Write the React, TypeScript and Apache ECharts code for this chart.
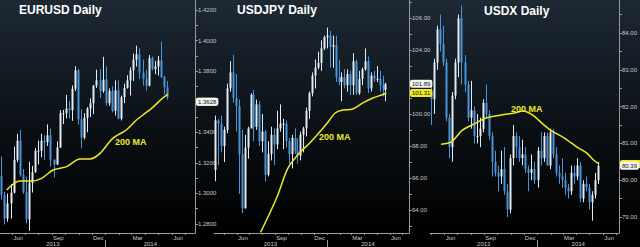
import { useEffect, useRef } from 'react';
import * as echarts from 'echarts';

// ---------- data ----------
// Weekly bars, stamped at mid-week (Wednesday).
const weeks = [
  '2013-04-10', '2013-04-17', '2013-04-24', '2013-05-01', '2013-05-08', '2013-05-15', '2013-05-22', '2013-05-29',
  '2013-06-05', '2013-06-12', '2013-06-19', '2013-06-26', '2013-07-03', '2013-07-10', '2013-07-17', '2013-07-24', '2013-07-31',
  '2013-08-07', '2013-08-14', '2013-08-21', '2013-08-28', '2013-09-04', '2013-09-11', '2013-09-18', '2013-09-25',
  '2013-10-02', '2013-10-09', '2013-10-16', '2013-10-23', '2013-10-30', '2013-11-06', '2013-11-13', '2013-11-20', '2013-11-27',
  '2013-12-04', '2013-12-11', '2013-12-18', '2013-12-25', '2014-01-01', '2014-01-08', '2014-01-15', '2014-01-22', '2014-01-29',
  '2014-02-05', '2014-02-12', '2014-02-19', '2014-02-26', '2014-03-05', '2014-03-12', '2014-03-19', '2014-03-26',
  '2014-04-02', '2014-04-09', '2014-04-16', '2014-04-23', '2014-04-30', '2014-05-07', '2014-05-14', '2014-05-21',
];

// EURUSD
const eurFirstOpen = 1.3115;
const eurHigh = [null, null, null, null,
  1.3242, 1.3010, 1.3000, 1.3061, 1.3307, 1.3390, 1.3416, 1.3160, 1.3110, 1.3207, 1.3180, 1.3297, 1.3346,
  1.3390, 1.3380, 1.3452, 1.3424, 1.3224, 1.3340, 1.3545, 1.3547, 1.3645, 1.3605, 1.3706, 1.3832, 1.3815,
  1.3550, 1.3525, 1.3565, 1.3622, 1.3710, 1.3810, 1.3812, 1.3893, 1.3830, 1.3687, 1.3700, 1.3740, 1.3740,
  1.3640, 1.3718, 1.3773, 1.3825, 1.3915, 1.3967, 1.3950, 1.3876, 1.3810, 1.3905, 1.3895, 1.3866, 1.3900,
  1.3993, 1.3770, 1.3735];
const eurLow = [null, null, null, null,
  1.2960, 1.2797, 1.2815, 1.2835, 1.3000, 1.3205, 1.3110, 1.2996, 1.2804, 1.2755, 1.3006, 1.3135, 1.3190,
  1.3236, 1.3220, 1.3310, 1.3175, 1.3105, 1.3186, 1.3300, 1.3453, 1.3490, 1.3491, 1.3475, 1.3670, 1.3450,
  1.3295, 1.3353, 1.3400, 1.3500, 1.3519, 1.3690, 1.3625, 1.3658, 1.3575, 1.3573, 1.3530, 1.3510, 1.3485,
  1.3477, 1.3590, 1.3685, 1.3640, 1.3735, 1.3830, 1.3750, 1.3705, 1.3673, 1.3700, 1.3805, 1.3780, 1.3771,
  1.3755, 1.3647, 1.3614];
const eurClose = [null, null, null, null,
  1.2990, 1.2835, 1.2935, 1.3005, 1.3220, 1.3345, 1.3120, 1.3010, 1.2830, 1.3070, 1.3140, 1.3280, 1.3280,
  1.3345, 1.3335, 1.3380, 1.3220, 1.3190, 1.3300, 1.3525, 1.3525, 1.3555, 1.3545, 1.3685, 1.3805, 1.3485,
  1.3365, 1.3495, 1.3555, 1.3590, 1.3705, 1.3740, 1.3670, 1.3745, 1.3590, 1.3670, 1.3540, 1.3675, 1.3490,
  1.3630, 1.3690, 1.3740, 1.3805, 1.3875, 1.3910, 1.3790, 1.3750, 1.3705, 1.3885, 1.3815, 1.3830, 1.3870,
  1.3760, 1.3695, 1.3628];
const eurMaDates = ['2013-05-20', '2013-06-19', '2013-07-16', '2013-08-08', '2013-09-03', '2013-10-04', '2013-11-03',
  '2013-11-26', '2013-12-19', '2014-01-17', '2014-02-17', '2014-03-12', '2014-03-27', '2014-04-19', '2014-05-11', '2014-05-23'];
const eurMa = [1.3022, 1.3081, 1.3081, 1.3099, 1.3153, 1.3175, 1.3225, 1.3225, 1.3262, 1.3360, 1.3415, 1.3480,
  1.3513, 1.3565, 1.3624, 1.3650];
const eurTickLabels = [1.28, 1.30, 1.32, 1.34, 1.38, 1.40, 1.42];

// USDJPY
const jpyFirstOpen = 96.5;
const jpyHigh = [99.9, 99.7, 99.9, 99.2, 101.9, 103.3, 103.7, 102.5, 100.9, 99.0, 98.7, 99.2, 101.3, 101.5, 100.9,
  100.8, 100.0, 99.0, 98.3, 99.2, 99.1, 100.2, 100.6, 99.7, 99.6, 98.5, 98.7, 99.1, 98.5, 98.9, 99.2, 100.4,
  101.4, 102.6, 103.4, 103.9, 104.6, 104.9, 105.4, 105.2, 104.9, 104.9, 103.4, 102.6, 102.8, 102.8, 102.7,
  103.8, 103.4, 102.7, 102.9, 104.1, 103.6, 102.6, 102.7, 103.0, 102.7, 102.4, 101.95];
const jpyLow = [95.8, 96.8, 97.6, 97.0, 98.8, 101.4, 100.7, 98.9, 95.0, 93.8, 94.1, 97.2, 99.1, 98.3, 99.0,
  98.0, 97.6, 95.8, 96.1, 97.1, 96.8, 97.8, 98.9, 97.8, 97.9, 96.9, 96.6, 97.5, 96.9, 97.1, 97.6, 98.6,
  99.7, 101.1, 101.6, 102.8, 102.7, 104.0, 104.1, 102.9, 102.9, 102.0, 101.8, 100.8, 101.6, 101.4, 101.2,
  101.2, 101.2, 101.2, 101.8, 102.7, 101.3, 101.4, 102.0, 102.0, 101.4, 101.1, 100.8];
const jpyClose = [99.6, 99.4, 98.0, 99.0, 101.6, 102.6, 101.0, 100.5, 97.5, 94.1, 97.9, 99.1, 101.2, 99.2, 100.6,
  98.3, 98.9, 96.2, 97.5, 98.7, 98.1, 99.1, 99.4, 99.4, 98.3, 97.5, 98.5, 97.7, 97.4, 98.7, 99.1, 100.2,
  101.3, 102.4, 102.9, 103.2, 104.1, 104.8, 104.9, 104.2, 104.3, 102.3, 102.0, 102.3, 101.8, 102.5, 101.8,
  103.3, 101.3, 102.2, 102.8, 103.3, 101.6, 102.4, 102.2, 102.2, 101.8, 101.5, 101.89];
const jpyMaDates = ['2013-07-27', '2013-09-04', '2013-09-30', '2013-10-29', '2013-11-22', '2013-12-16', '2014-01-04',
  '2014-01-21', '2014-02-08', '2014-03-04', '2014-03-28', '2014-04-21', '2014-05-15', '2014-05-23'];
const jpyMa = [92.6, 94.8, 96.6, 97.6, 98.2, 98.9, 99.5, 100.06, 100.25, 100.31, 100.69, 101.0, 101.22, 101.31];
const jpyTickLabels = [94, 96, 98, 100, 104, 106];

// USDX
const dxyFirstOpen = 82.4;
const dxyHigh = [null, null, null,
  82.6, 83.3, 84.2, 84.5, 84.2, 83.3, 81.8, 82.4, 83.3, 84.5, 84.75, 83.4, 82.7, 82.7, 82.0, 81.8, 81.7,
  82.2, 82.6, 81.9, 81.3, 80.8, 80.4, 80.8, 80.9, 79.9, 80.7, 81.5, 81.3, 81.2, 81.1, 80.9, 80.4, 80.7,
  80.5, 80.9, 81.3, 81.3, 81.3, 81.4, 81.4, 80.9, 80.4, 80.6, 80.2, 79.9, 80.4, 80.4, 80.6, 80.5, 80.0,
  80.1, 79.9, 79.7, 80.2, 80.5];
const dxyLow = [null, null, null,
  81.5, 81.8, 83.0, 83.5, 83.1, 81.6, 80.6, 80.5, 82.2, 82.8, 82.6, 82.4, 81.6, 81.4, 81.0, 81.0, 80.9,
  81.3, 81.7, 81.1, 80.1, 80.1, 79.7, 79.9, 79.6, 79.0, 79.1, 80.4, 80.6, 80.5, 80.4, 80.2, 79.7, 80.0,
  79.9, 79.8, 80.4, 80.5, 80.4, 80.3, 80.6, 80.1, 79.9, 79.8, 79.6, 79.5, 79.6, 79.9, 80.0, 79.4, 79.4,
  79.7, 79.2, 78.9, 79.5, 79.9];
const dxyClose = [null, null, null,
  82.2, 83.2, 84.1, 83.7, 83.2, 81.7, 80.9, 82.3, 83.2, 84.4, 83.2, 82.6, 81.7, 81.9, 81.2, 81.2, 81.4,
  82.1, 81.8, 81.2, 80.5, 80.2, 80.1, 80.3, 79.7, 79.2, 80.6, 81.2, 80.9, 80.6, 80.7, 80.3, 80.2, 80.3,
  80.0, 80.8, 80.6, 81.2, 80.4, 81.3, 80.7, 80.2, 80.1, 80.0, 79.8, 79.7, 80.2, 80.1, 80.4, 79.5, 79.9,
  79.8, 79.4, 79.6, 80.0, 80.39];
const dxyMaDates = ['2013-05-24', '2013-06-17', '2013-07-12', '2013-08-12', '2013-09-04', '2013-10-10', '2013-11-11',
  '2013-11-28', '2013-12-21', '2014-01-13', '2014-01-31', '2014-03-03', '2014-04-02', '2014-04-24', '2014-05-10', '2014-05-23'];
const dxyMa = [80.98, 81.04, 81.36, 81.55, 81.69, 81.77, 81.83, 81.88, 81.77, 81.53, 81.36, 81.15, 80.90, 80.74,
  80.55, 80.44];
const dxyTickLabels = [79, 80, 81, 82, 83, 84];

// time axis labels
const monthLabelDates = ['2013-06-15', '2013-09-15', '2013-12-15', '2014-03-15', '2014-06-15'];
const monthNames = ['Jan', 'Feb', 'Mar', 'Apr', 'May', 'Jun', 'Jul', 'Aug', 'Sep', 'Oct', 'Nov', 'Dec'];
const yearLabels = ['2013', '2014'];

// ---------- styling ----------
const FONT = '"Liberation Sans", Arial, Helvetica, sans-serif';
const AXIS = '#9a9a9a';
const LABEL = '#c8c8c8';
const UP = '#e2ebf3';
const DOWN = '#4a94da';
const YELLOW = '#efe92a';
const DAY = 86400000;
const ts = (s: string) => Date.parse(s + 'T00:00:00Z');
const YEAR_START = ts('2014-01-01');
const PLOT_H = 233;

type Num = number | null;
interface Panel {
  title: string; titleX: number; titleY: number;
  x0: number; x1: number; bg0: number; bg1: number;
  dayMin: number; dayMax: number;
  yMin: number; yMax: number; minorStep: number; decimals: number; tickLabels: number[];
  firstOpen: number; high: Num[]; low: Num[]; close: Num[];
  maDates: string[]; ma: number[]; maText: [number, number]; maLabelText: boolean;
}

const panels: Panel[] = [
  {
    title: 'EURUSD Daily', titleX: 19, titleY: 4, x0: 0, x1: 195, bg0: 0, bg1: 215,
    dayMin: -241.1, dayMax: 203.7, yMin: 1.27411, yMax: 1.42654, minorStep: 0.01, decimals: 4,
    tickLabels: eurTickLabels, firstOpen: eurFirstOpen, high: eurHigh, low: eurLow, close: eurClose,
    maDates: eurMaDates, ma: eurMa, maText: [115, 141.5], maLabelText: false,
  },
  {
    title: 'USDJPY Daily', titleX: 237, titleY: 4, x0: 214, x1: 409, bg0: 215, bg1: 430,
    dayMin: -269.1, dayMax: 196.1, yMin: 92.5625, yMax: 107.125, minorStep: 1, decimals: 2,
    tickLabels: jpyTickLabels, firstOpen: jpyFirstOpen, high: jpyHigh, low: jpyLow, close: jpyClose,
    maDates: jpyMaDates, ma: jpyMa, maText: [319, 136.5], maLabelText: true,
  },
  {
    title: 'USDX Daily', titleX: 484, titleY: 5, x0: 430, x1: 623, bg0: 430, bg1: 640,
    dayMin: -247.4, dayMax: 187.5, yMin: 78.565, yMax: 84.897, minorStep: 0.5, decimals: 2,
    tickLabels: dxyTickLabels, firstOpen: dxyFirstOpen, high: dxyHigh, low: dxyLow, close: dxyClose,
    maDates: dxyMaDates, ma: dxyMa, maText: [511, 108.5], maLabelText: false,
  },
];

function candleData(p: Panel) {
  const out: number[][] = [];
  let prev = p.firstOpen;
  for (let k = 0; k < weeks.length; k++) {
    const c = p.close[k];
    if (c == null) continue;
    out.push([ts(weeks[k]), prev, c, p.low[k] as number, p.high[k] as number]);
    prev = c;
  }
  return out;
}

function renderCandle(_params: any, api: any) {
  const t = api.value(0);
  const o = api.value(1);
  const c = api.value(2);
  const hiPt = api.coord([t, api.value(4)]);
  const loPt = api.coord([t, api.value(3)]);
  const oPt = api.coord([t, o]);
  const cPt = api.coord([t, c]);
  const color = c >= o ? UP : DOWN;
  const x = Math.round(hiPt[0]) + 0.5;
  const yTop = Math.min(oPt[1], cPt[1]);
  const h = Math.max(1, Math.abs(oPt[1] - cPt[1]));
  return {
    type: 'group',
    children: [
      { type: 'line', shape: { x1: x, y1: hiPt[1], x2: x, y2: loPt[1] }, style: { stroke: color, lineWidth: 1 } },
      { type: 'rect', shape: { x: x - 1, y: yTop, width: 2, height: h }, style: { fill: color } },
    ],
  };
}

function minorTicks(p: Panel) {
  const out: number[] = [];
  const start = Math.ceil(p.yMin / p.minorStep - 1e-9);
  const end = Math.floor(p.yMax / p.minorStep + 1e-9);
  for (let k = start; k <= end; k++) out.push(Math.round(k * p.minorStep * 1e6) / 1e6);
  return out;
}

function monthStarts(min: number, max: number) {
  const out: number[] = [];
  for (let y = 2013; y <= 2014; y++) {
    for (let m = 0; m < 12; m++) {
      const t = Date.UTC(y, m, 1);
      if (t > min && t < max) out.push(t);
    }
  }
  return out;
}

function buildOption() {
  const xAxis: any[] = [];
  const yAxis: any[] = [];
  const series: any[] = [];
  const graphic: any[] = [];

  panels.forEach((p, i) => {
    const min = YEAR_START + p.dayMin * DAY;
    const max = YEAR_START + p.dayMax * DAY;
    const labelTs = monthLabelDates.map(ts).filter((t) => t > min && t < max);

    xAxis.push({
      type: 'value', gridIndex: i, position: 'bottom', min, max,
      axisLine: { show: true, onZero: false, lineStyle: { color: AXIS, width: 1 } },
      axisTick: { show: true, length: 2, customValues: monthStarts(min, max), lineStyle: { color: AXIS } },
      axisLabel: {
        show: true, customValues: labelTs, margin: 2, color: LABEL, fontSize: 6, fontFamily: FONT,
        formatter: (v: number) => monthNames[new Date(v).getUTCMonth()],
      },
      splitLine: { show: false },
    });
    xAxis.push({
      type: 'value', gridIndex: i, position: 'bottom', offset: 7, min, max,
      axisLine: { show: false, onZero: false },
      axisTick: { show: true, length: 8, customValues: [YEAR_START], lineStyle: { color: AXIS } },
      axisLabel: {
        show: true, customValues: [(min + YEAR_START) / 2, (YEAR_START + max) / 2], margin: 1,
        color: LABEL, fontSize: 6, fontFamily: FONT,
        formatter: (v: number) => (v < YEAR_START ? yearLabels[0] : yearLabels[1]),
      },
      splitLine: { show: false },
    });

    yAxis.push({
      type: 'value', gridIndex: i, position: 'right', min: p.yMin, max: p.yMax,
      axisLine: { show: true, lineStyle: { color: AXIS, width: 1 } },
      axisTick: { show: true, length: 3, customValues: minorTicks(p), lineStyle: { color: AXIS } },
      axisLabel: {
        show: true, customValues: p.tickLabels, margin: 3, color: LABEL, fontSize: 6, fontFamily: FONT,
        formatter: (v: number) => v.toFixed(p.decimals),
      },
      splitLine: { show: false },
    });

    const bars = candleData(p);
    const last = bars[bars.length - 1][2];
    const maLast = p.ma[p.ma.length - 1];
    const boxLabel = (bg: string, text: string, extra: any = {}) => ({
      show: true, position: 'end', distance: 1, formatter: text, backgroundColor: bg, color: '#111111',
      fontSize: 6, fontFamily: FONT, padding: [1, 2, 1, 2], borderRadius: 2, opacity: 1, ...extra,
    });

    series.push({
      type: 'custom', name: p.title, xAxisIndex: 2 * i, yAxisIndex: i, clip: true,
      renderItem: renderCandle, encode: { x: 0, y: [1, 2, 3, 4] }, data: bars, z: 3,
    });
    series.push({
      type: 'line', name: p.title + ' 200 MA', xAxisIndex: 2 * i, yAxisIndex: i, clip: true,
      data: p.maDates.map((d, k) => [ts(d), p.ma[k]]),
      smooth: 0.3, symbol: 'none', z: 4,
      lineStyle: { color: YELLOW, width: 1.5 },
      markLine: {
        silent: true, symbol: 'none', animation: false,
        lineStyle: { color: 'rgba(0,0,0,0)', width: 0, opacity: 1, type: 'solid' },
        data: [
          {
            yAxis: maLast,
            label: p.maLabelText
              ? boxLabel(YELLOW, maLast.toFixed(p.decimals))
              : boxLabel(YELLOW, ' ', { width: 17, height: 6 }),
          },
          { yAxis: last, label: boxLabel('#f4f4f4', last.toFixed(p.decimals)) },
        ],
      },
    });

    graphic.push({
      type: 'rect', z: -100, silent: true,
      shape: { x: p.bg0, y: 0, width: p.bg1 - p.bg0, height: PLOT_H },
      style: {
        fill: new echarts.graphic.LinearGradient(0, 0, 0, 1, [
          { offset: 0, color: '#1d2935' },
          { offset: 0.55, color: '#0b1015' },
          { offset: 1, color: '#000000' },
        ]),
      },
    });
    graphic.push({
      type: 'text', z: 100, silent: true, x: p.maText[0], y: p.maText[1],
      style: {
        text: '200 MA', fill: YELLOW, font: `bold 9px ${FONT}`,
        textVerticalAlign: 'middle', verticalAlign: 'middle',
      },
    });
  });

  return {
    animation: false,
    backgroundColor: '#000000',
    textStyle: { fontFamily: FONT },
    title: panels.map((p) => ({
      text: p.title, left: p.titleX, top: p.titleY, padding: 0,
      textStyle: { color: '#ffffff', fontSize: 12, fontWeight: 'bold', fontFamily: FONT },
    })),
    grid: panels.map((p) => ({ left: p.x0, top: 0, width: p.x1 - p.x0, height: PLOT_H })),
    xAxis, yAxis, series, graphic,
  };
}

export default function App() {
  const ref = useRef<HTMLDivElement>(null);
  useEffect(() => {
    if (!ref.current) return;
    const chart = echarts.init(ref.current, undefined, { renderer: 'svg' });
    chart.setOption(buildOption() as any);
    return () => chart.dispose();
  }, []);
  return (
    <div
      ref={ref}
      style={{ position: 'fixed', left: 0, top: 0, width: 640, height: 247, background: '#000' }}
    />
  );
}
